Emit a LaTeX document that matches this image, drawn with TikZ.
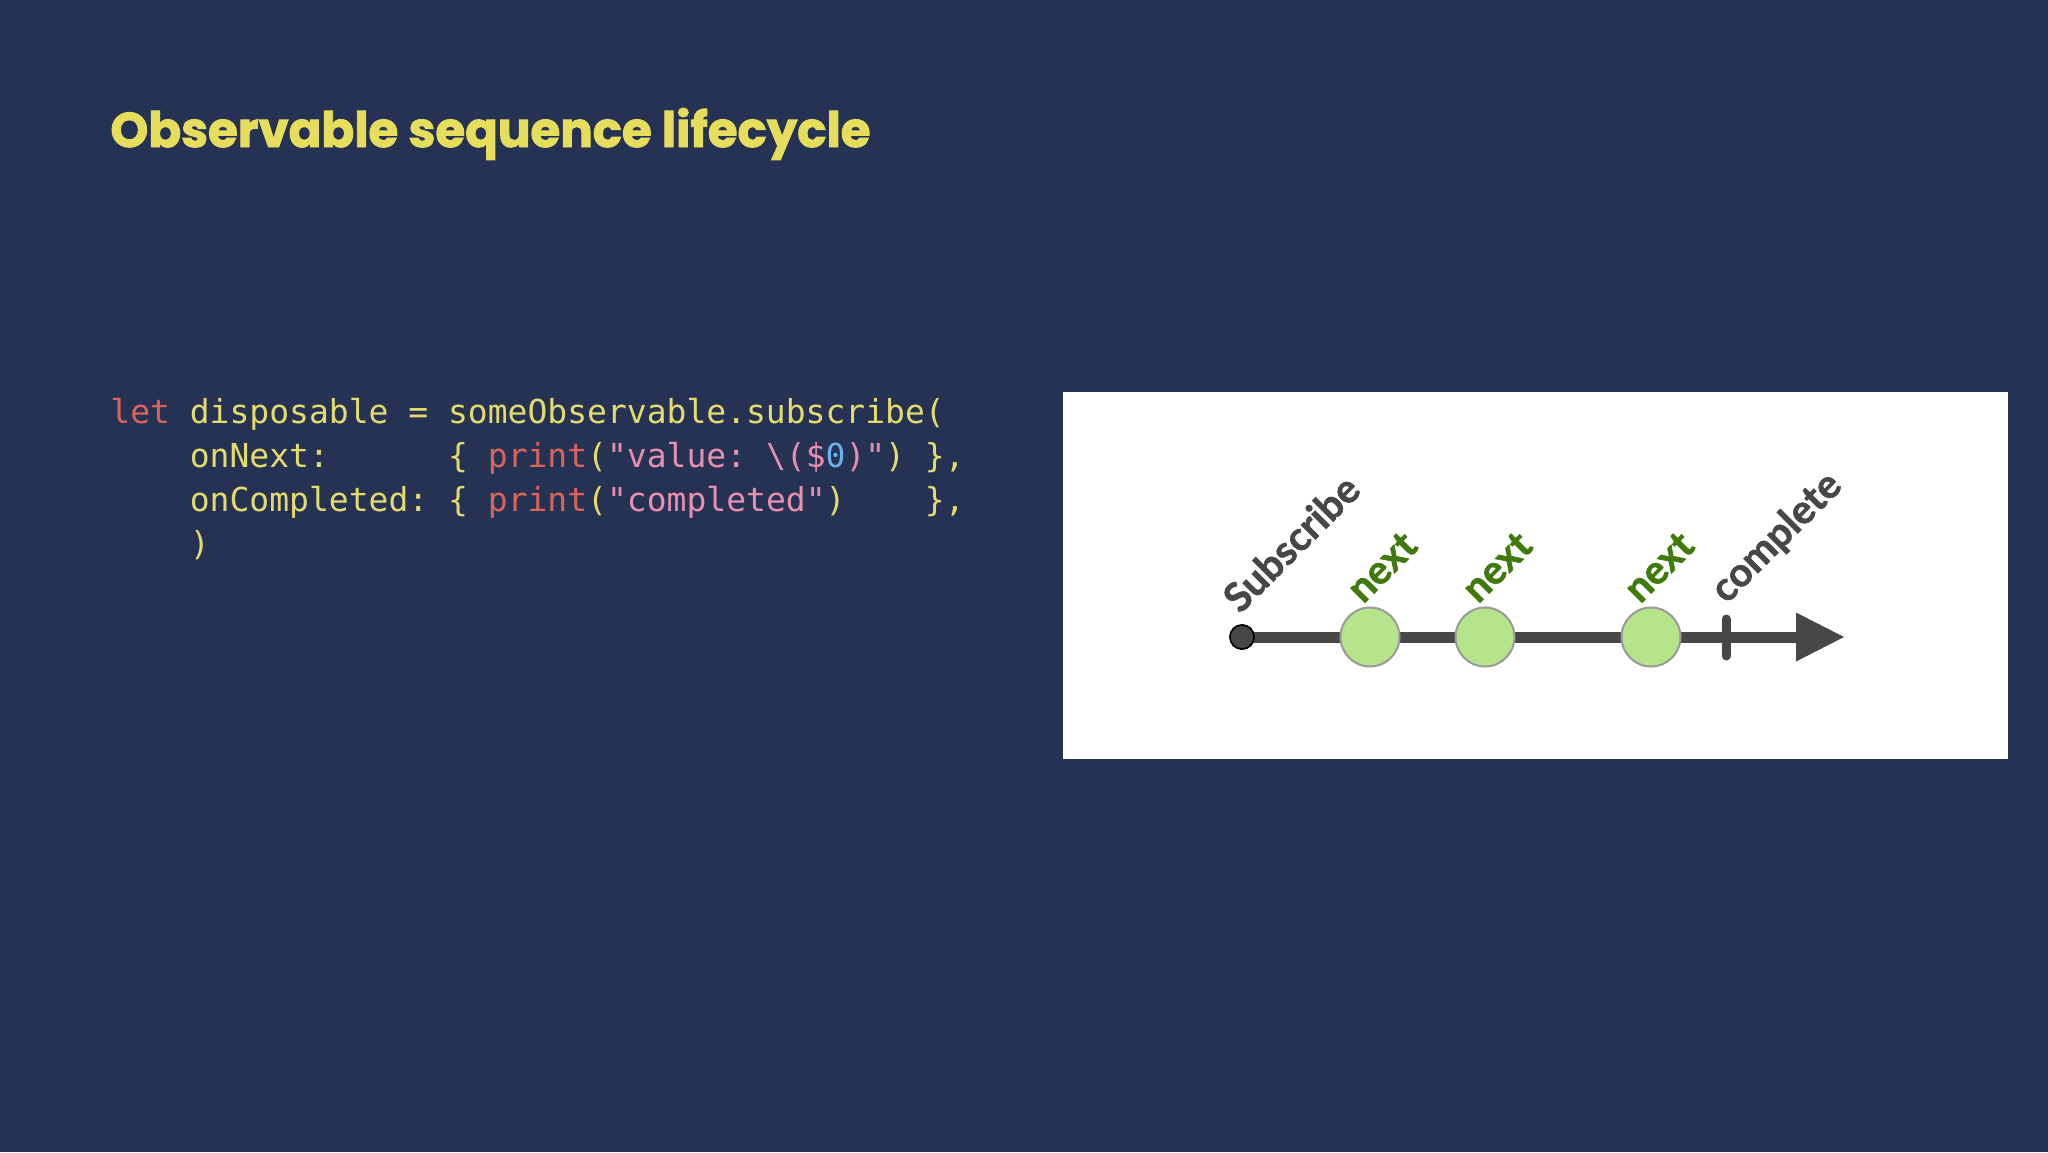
\documentclass[tikz,border=0pt]{standalone}
\usepackage{fontspec}
\setmonofont{DejaVu Sans Mono}
\newfontfamily\titlefont{Poppins}[BoldFeatures={FakeBold=2}]
\newfontfamily\labelfont{Lato}[BoldFeatures={FakeBold=1.5}]
\usepackage{graphicx}
\definecolor{bg}{HTML}{263253}
\definecolor{titley}{HTML}{E6DD5C}
\definecolor{codey}{HTML}{E3DB6B}
\definecolor{kwred}{HTML}{D9655A}
\definecolor{strpink}{HTML}{E88FB0}
\definecolor{numblue}{HTML}{6BB3F0}
\definecolor{axisgray}{HTML}{474747}
\definecolor{marblefill}{HTML}{B5E48A}
\definecolor{marbledraw}{HTML}{9A9A9A}
\definecolor{nextgreen}{HTML}{3F7A0C}
\newcommand\kw[1]{\textcolor{kwred}{#1}}
\newcommand\str[1]{\textcolor{strpink}{#1}}
\newcommand\num[1]{\textcolor{numblue}{#1}}
\begin{document}
\begin{tikzpicture}[x=0.5pt,y=-0.5pt,
  codeline/.style={anchor=base west,inner sep=0pt,text=codey,font=\ttfamily\fontsize{16.5pt}{20pt}\selectfont},
  marble/.style={circle,minimum size=29.5pt,inner sep=0pt,fill=marblefill,draw=marbledraw,line width=1pt},
  evlabel/.style={rotate=45,anchor=center,inner sep=0pt,font=\labelfont\bfseries\fontsize{20pt}{24pt}\selectfont},
  axis/.style={line width=5.5pt,draw=axisgray}]
\fill[bg] (0,0) rectangle (2048,1152);
\useasboundingbox (0,0) rectangle (2048,1152);
% title
\node[anchor=base west,inner sep=0pt,text=titley] (title) at (110,147)
  {\resizebox{380pt}{19.5pt}{\titlefont\bfseries Observable sequence lifecycle}};
% code
\node[codeline] (l1) at (110,423) {\kw{let} disposable = someObservable.subscribe(};
\node[codeline] (l2) at (110,467) {\phantom{xxxx}onNext:\phantom{xxxxxx}\{ \kw{print}(\str{"value: \textbackslash(\$}\num{0}\str{)"}) \},};
\node[codeline] (l3) at (110,511) {\phantom{xxxx}onCompleted: \{ \kw{print}(\str{"completed"})\phantom{xxxx}\},};
\node[codeline] (l4) at (110,555) {\phantom{xxxx})};
% white panel
\fill[white] (1063,392) rectangle (2008,759);
% timeline
\coordinate (tip) at (1844,637);
\coordinate (abase) at (1796,637);
\node[circle,fill=axisgray,draw=black,line width=0.8pt,minimum size=12pt,inner sep=0pt] (start) at (1242,637) {};
\draw[axis] (start.center) -- (abase);
\fill[axisgray] (1796,612.5) -- (tip) -- (1796,661.5) -- cycle;
\node[circle,fill=axisgray,draw=black,line width=0.8pt,minimum size=12pt,inner sep=0pt] at (start) {};
\coordinate (tickt) at (1726,619);
\coordinate (tickb) at (1726,656);
\draw[axisgray,line width=4.5pt,line cap=round] (tickt) -- (tickb);
\node[marble] (m1) at (1370,637) {};
\node[marble] (m2) at (1485,637) {};
\node[marble] (m3) at (1651,637) {};
% labels
\node[evlabel,text=axisgray] (subl) at (1291,543) {Subscribe};
\node[evlabel,text=nextgreen] (n1) at (1382,567) {next};
\node[evlabel,text=nextgreen] (n2) at (1497,567) {next};
\node[evlabel,text=nextgreen] (n3) at (1659,567) {next};
\node[evlabel,text=axisgray] (compl) at (1777,538) {complete};
\end{tikzpicture}
\end{document}
